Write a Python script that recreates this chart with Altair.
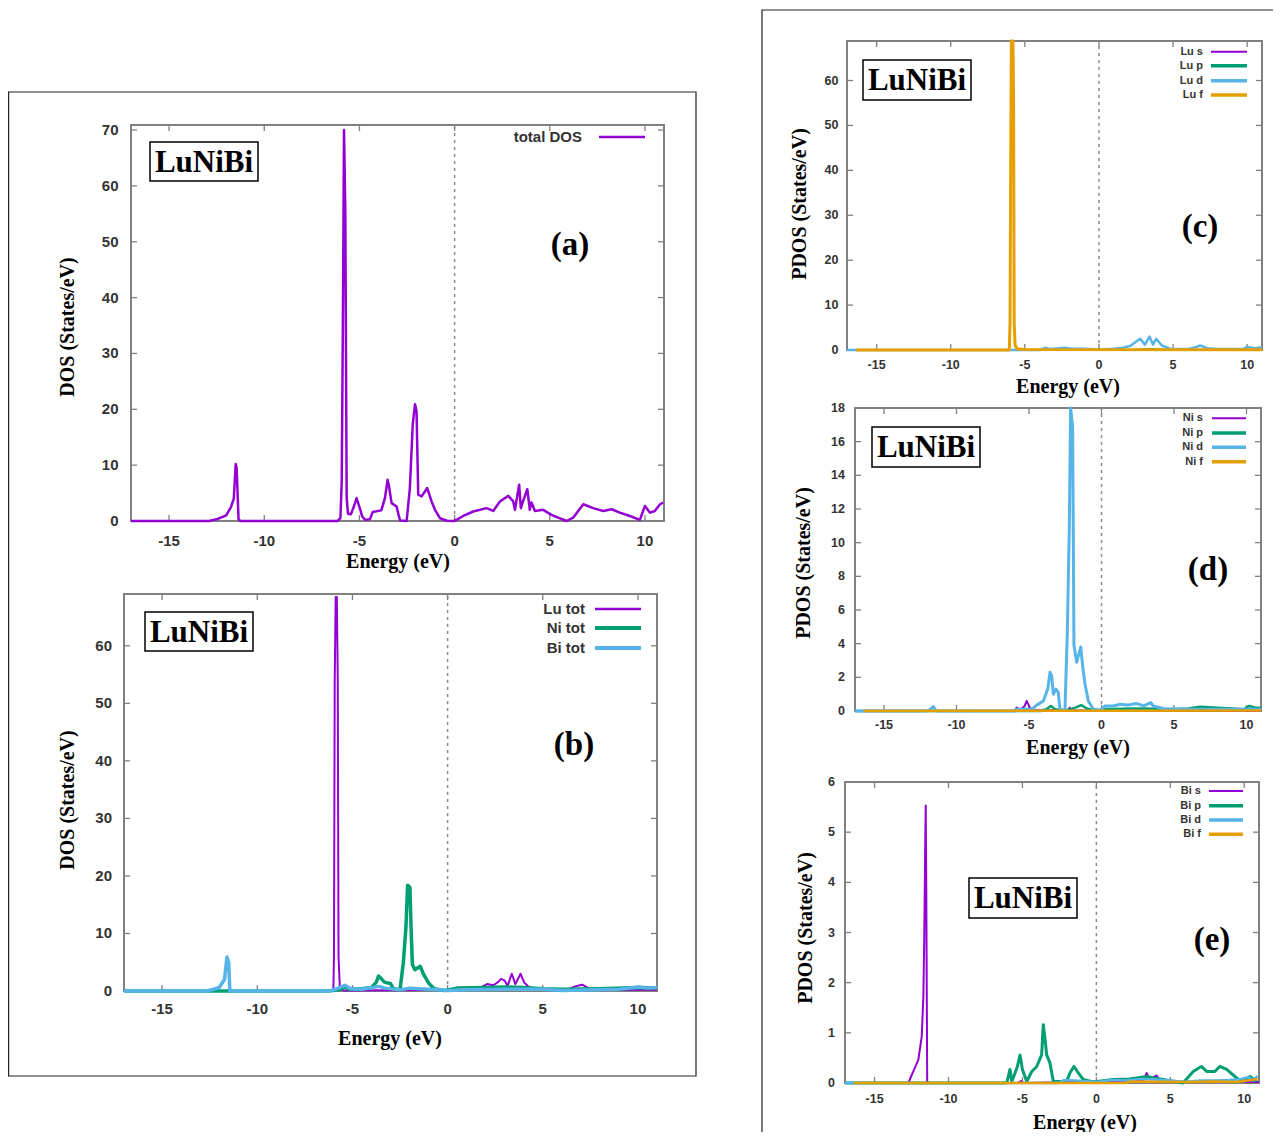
import altair as alt
import pandas as pd

OFF = 8            # page margin
W, H = 1265, 1124  # drawing area

XMIN, XMAX = -17, 11
X_TICKS = [-15, -10, -5, 0, 5, 10]
X_TICK_LABELS = ["-15", "-10", "-5", "0", "5", "10"]

PURPLE = "#9400d3"
GREEN = "#009e73"
BLUE = "#56b4e9"
ORANGE = "#e69f00"
FRAME = "#808080"
TXT = "#333333"
SANS = "Liberation Sans"
SERIF = "Liberation Serif"

# ---------------- data (energy eV, states/eV) ----------------
# (a) total DOS
a_total = [(-17, 0), (-12.9, 0), (-12.5, 0.3), (-12.0, 1.0), (-11.75, 2.5), (-11.6, 4.0), (-11.5, 10.2),
           (-11.45, 9.5), (-11.35, 0.3), (-11.25, 0), (-6.15, 0), (-6.0, 0.5), (-5.93, 7.0), (-5.86, 40),
           (-5.81, 70), (-5.74, 55), (-5.67, 4.1), (-5.6, 1.3), (-5.45, 1.2), (-5.3, 2.5), (-5.15, 4.1),
           (-5.0, 2.5), (-4.85, 0.8), (-4.7, 0.2), (-4.45, 0.3), (-4.3, 1.6), (-3.85, 1.9), (-3.66, 4.1),
           (-3.52, 7.4), (-3.46, 6.5), (-3.31, 3.2), (-3.05, 2.6), (-2.9, 0.5), (-2.85, 0.1), (-2.52, 0),
           (-2.35, 5.9), (-2.2, 17.3), (-2.08, 20.9), (-2.0, 19.7), (-1.91, 4.7), (-1.73, 4.4), (-1.44, 5.9),
           (-1.21, 3.5), (-1.03, 2.0), (-0.77, 0.5), (-0.4, 0.05), (-0.05, 0), (0.1, 0.2), (0.45, 0.9),
           (0.98, 1.7), (1.68, 2.3), (2.03, 1.8), (2.38, 3.5), (2.82, 4.5), (3.08, 3.5), (3.17, 2.0),
           (3.39, 6.5), (3.48, 2.3), (3.57, 3.3), (3.82, 5.7), (3.95, 2.0), (4.04, 3.3), (4.22, 1.8),
           (4.65, 2.0), (5.09, 1.1), (5.5, 0.5), (5.88, 0), (6.23, 0.6), (6.76, 3.0), (7.28, 2.3),
           (7.81, 1.8), (8.25, 2.1), (8.68, 1.5), (9.21, 0.9), (9.73, 0.2), (10.0, 2.7), (10.26, 1.5),
           (10.52, 1.8), (10.79, 3.0), (10.95, 3.3)]

# (b) atom-resolved totals
b_lu = [(-17, 0), (-6.05, 0), (-6.0, 0.5), (-5.97, 6), (-5.93, 54), (-5.88, 68.5), (-5.82, 68.5),
        (-5.77, 54), (-5.73, 6), (-5.66, 0.5), (-5.5, 0.1), (1.5, 0.2), (2.07, 1.2), (2.4, 1.0), (2.63, 1.5),
        (2.81, 2.1), (3.0, 1.8), (3.15, 0.9), (3.37, 3.0), (3.56, 1.2), (3.83, 3.0), (4.02, 1.5), (4.2, 0.9),
        (4.5, 0.2), (6.3, 0.2), (6.7, 0.8), (7.07, 1.1), (7.44, 0.4), (8.0, 0.2), (11, 0.2)]
b_ni = [(-17, 0), (-6.5, 0), (-6.0, 0.1), (-5.6, 0.3), (-5.4, 0.8), (-5.2, 0.3), (-4.5, 0.4), (-4.0, 0.6),
        (-3.75, 1.5), (-3.63, 2.6), (-3.5, 2.2), (-3.3, 1.5), (-3.0, 1.3), (-2.85, 0.4), (-2.5, 0.2),
        (-2.33, 4.8), (-2.19, 11), (-2.1, 18.4), (-1.98, 18.0), (-1.91, 10), (-1.85, 4.6), (-1.72, 3.7),
        (-1.44, 4.3), (-1.26, 2.9), (-0.98, 1.3), (-0.7, 0.4), (-0.15, 0.1), (0.5, 0.5), (2, 0.6), (3, 0.7),
        (4, 0.6), (5, 0.4), (6, 0.3), (8, 0.4), (10, 0.6), (11, 0.5)]
b_bi = [(-17, 0), (-12.65, 0), (-12.3, 0.3), (-12.0, 0.6), (-11.72, 2.0), (-11.59, 5.9), (-11.5, 5.0),
        (-11.44, 0), (-6.2, 0), (-5.9, 0.3), (-5.4, 1.0), (-5.1, 0.4), (-4.5, 0.3), (-3.6, 0.8), (-3.3, 0.5),
        (-2.5, 0.2), (-2.0, 0.5), (-1.5, 0.4), (-0.5, 0.2), (0, 0.1), (1, 0.2), (3, 0.3), (5, 0.3), (6, 0.1),
        (9, 0.3), (10.04, 0.7), (10.5, 0.5), (11, 0.6)]

# (c) Lu orbitals
c_s = [(-17, 0), (3.0, 0), (3.5, 0.15), (4.0, 0), (11, 0)]
c_p = [(-17, 0), (2.0, 0), (3.5, 0.2), (5.0, 0), (11, 0)]
c_d = [(-17, 0), (-4.0, 0), (-3.6, 0.5), (-3.3, 0.2), (-2.3, 0.5), (-1.8, 0.3), (-1.0, 0.3), (0, 0.1),
       (1.0, 0.3), (1.6, 0.5), (2.1, 0.9), (2.78, 2.5), (3.1, 1.2), (3.41, 3.0), (3.64, 1.2), (3.86, 2.5),
       (4.24, 1.0), (4.8, 0.3), (6.0, 0.2), (6.5, 0.6), (6.83, 1.0), (7.3, 0.4), (8.0, 0.2), (9.8, 0.3),
       (10.0, 0.7), (10.5, 0.4), (11, 0.6)]
c_f = [(-16.4, 0), (-6.05, 0), (-6.0, 6), (-5.96, 38), (-5.91, 70), (-5.8, 70), (-5.76, 54), (-5.72, 6),
       (-5.66, 1.2), (-5.55, 0.3), (-5.0, 0.1), (11, 0.05)]

# (d) Ni orbitals
d_s = [(-17, 0), (-6.0, 0), (-5.85, 0.2), (-5.6, 0.05), (-5.3, 0.3), (-5.16, 0.6), (-5.0, 0.3), (-4.8, 0.05),
       (-2.3, 0.05), (-2.2, 0.2), (-2.1, 0.05), (11, 0.02)]
d_p = [(-17, 0), (-4.2, 0), (-3.8, 0.1), (-3.5, 0.3), (-3.2, 0.1), (-2.4, 0.05), (-1.8, 0.2), (-1.4, 0.35),
       (-1.0, 0.15), (-0.5, 0.02), (0.2, 0.1), (2.0, 0.15), (3.0, 0.15), (4.5, 0.1), (6.0, 0.15), (6.8, 0.25),
       (8.0, 0.2), (9.0, 0.15), (9.8, 0.1), (10.2, 0.3), (10.6, 0.2), (11, 0.2)]
d_d = [(-17, 0), (-12.0, 0), (-11.8, 0.1), (-11.6, 0.26), (-11.4, 0), (-6.0, 0), (-5.9, 0.1), (-4.8, 0.1),
       (-4.47, 0.35), (-4.01, 0.6), (-3.71, 1.3), (-3.55, 2.3), (-3.44, 2.1), (-3.32, 1.0), (-3.14, 1.3),
       (-2.98, 1.1), (-2.86, 0.05), (-2.52, 0.05), (-2.36, 4.6), (-2.22, 10.9), (-2.13, 18.3), (-1.99, 16.9),
       (-1.9, 3.9), (-1.71, 2.9), (-1.53, 3.5), (-1.43, 3.8), (-1.29, 2.6), (-1.14, 1.6), (-0.91, 0.6),
       (-0.56, 0.1), (0, 0.05), (0.23, 0.3), (0.8, 0.3), (1.3, 0.4), (1.8, 0.35), (2.4, 0.45), (2.9, 0.3),
       (3.4, 0.5), (3.56, 0.3), (4.25, 0.15), (5.0, 0.1), (6.0, 0.1), (11, 0.1)]
d_f = [(-16.4, 0), (2.0, 0.02), (11, 0.03)]

# (e) Bi orbitals
e_s = [(-17, 0), (-12.72, 0), (-12.38, 0.23), (-12.04, 0.46), (-11.81, 0.93), (-11.7, 1.72), (-11.64, 2.9),
       (-11.57, 4.9), (-11.54, 5.53), (-11.5, 3.7), (-11.44, 0), (-5.3, 0), (-5.1, 0.04), (-4.9, 0),
       (3.2, 0.05), (3.4, 0.2), (3.6, 0.08), (4.08, 0.15), (4.3, 0.03), (11, 0.02)]
e_p = [(-17, 0), (-6.06, 0), (-5.84, 0.27), (-5.72, 0.03), (-5.5, 0.2), (-5.34, 0.33), (-5.16, 0.56),
       (-5.0, 0.27), (-4.71, 0.03), (-4.37, 0.23), (-4.03, 0.33), (-3.7, 0.56), (-3.59, 1.16), (-3.48, 0.9),
       (-3.36, 0.56), (-3.14, 0.4), (-2.91, 0.03), (-2.01, 0.03), (-1.79, 0.2), (-1.52, 0.33), (-1.22, 0.2),
       (-0.89, 0.07), (-0.21, 0.02), (1.13, 0.07), (2.26, 0.08), (3.38, 0.13), (4.51, 0.07), (5.86, 0),
       (6.55, 0.23), (7.1, 0.33), (7.46, 0.23), (8.01, 0.23), (8.36, 0.33), (8.81, 0.27), (9.49, 0.1),
       (9.94, 0.03), (10.39, 0.13), (10.84, 0.03)]
e_d = [(-17, 0), (-2.5, 0), (-2.2, 0.06), (-1.5, 0.05), (0, 0.02), (1, 0.06), (2, 0.05), (3, 0.08), (4, 0.07),
       (5, 0.05), (6, 0.02), (7, 0.05), (8, 0.05), (9, 0.06), (9.8, 0.08), (10.3, 0.12), (10.6, 0.05),
       (10.9, 0.14)]
e_f = [(-16.4, 0), (2.0, 0), (2.3, 0.03), (6.0, 0.02), (8.0, 0.03), (9.5, 0.02), (10.0, 0.04), (10.5, 0.06),
       (10.9, 0.08)]

# tick labels and legend labels
a_yticks = [0, 10, 20, 30, 40, 50, 60, 70]
b_yticks = [0, 10, 20, 30, 40, 50, 60]
c_yticks = [0, 10, 20, 30, 40, 50, 60]
d_yticks = [0, 2, 4, 6, 8, 10, 12, 14, 16, 18]
e_yticks = [0, 1, 2, 3, 4, 5, 6]
a_labels = ["total DOS"]
b_labels = ["Lu tot", "Ni tot", "Bi tot"]
c_labels = ["Lu s", "Lu p", "Lu d", "Lu f"]
d_labels = ["Ni s", "Ni p", "Ni d", "Ni f"]
e_labels = ["Bi s", "Bi p", "Bi d", "Bi f"]
FORMULA = "LuNiBi"
X_TITLE = "Energy (eV)"

# ---------------- layout (page pixels) ----------------
PANELS = [
    dict(tag="(a)", L=131, R=664, T=125, B=521, ymax=70.9, yticks=a_yticks, lfs=15,
         xly=541, ylx=118.5, xtx=398, xty=562, ytx=68, yty=327, ytitle="DOS (States/eV)",
         series=[(a_total, PURPLE, 2.5)], labels=a_labels, leg_w=[2.5], leg_fs=15,
         leg_tx=582, leg_l0=599, leg_l1=645, leg_y=[137],
         box=(150, 142, 258, 181), tagpos=(570, 245)),
    dict(tag="(b)", L=124, R=657, T=594, B=991, ymax=69, yticks=b_yticks, lfs=15,
         xly=1009, ylx=112, xtx=390, xty=1039, ytx=68, yty=800, ytitle="DOS (States/eV)",
         series=[(b_lu, PURPLE, 2.0), (b_ni, GREEN, 3.5), (b_bi, BLUE, 3.5)], labels=b_labels,
         leg_w=[2.5, 4, 4], leg_fs=15, leg_tx=585, leg_l0=595, leg_l1=641, leg_y=[609, 628, 648],
         box=(145, 612, 253, 651), tagpos=(574, 745)),
    dict(tag="(c)", L=847, R=1262, T=41, B=350, ymax=68.8, yticks=c_yticks, lfs=12.5,
         xly=364.5, ylx=838.5, xtx=1068, xty=387, ytx=800, yty=204, ytitle="PDOS (States/eV)",
         series=[(c_s, PURPLE, 1.5), (c_p, GREEN, 2.0), (c_d, BLUE, 2.5), (c_f, ORANGE, 3.0)],
         labels=c_labels, leg_w=[2, 3.5, 3.5, 3.5], leg_fs=11, leg_tx=1203, leg_l0=1211, leg_l1=1247,
         leg_y=[51.7, 65.7, 80.7, 95], box=(863, 60, 971, 100), tagpos=(1200, 227)),
    dict(tag="(d)", L=855, R=1261, T=408, B=711, ymax=18, yticks=d_yticks, lfs=12.5,
         xly=725, ylx=845, xtx=1078, xty=748, ytx=804, yty=563, ytitle="PDOS (States/eV)",
         series=[(d_s, PURPLE, 2.0), (d_p, GREEN, 2.5), (d_d, BLUE, 3.0), (d_f, ORANGE, 2.5)],
         labels=d_labels, leg_w=[2, 3.5, 3.5, 3.5], leg_fs=11, leg_tx=1203, leg_l0=1212, leg_l1=1246,
         leg_y=[418.3, 433, 447.3, 461.7], box=(872, 427, 980, 467), tagpos=(1208, 570)),
    dict(tag="(e)", L=845, R=1259, T=782, B=1083, ymax=6, yticks=e_yticks, lfs=12.5,
         xly=1098.5, ylx=835, xtx=1085, xty=1123, ytx=806, yty=928, ytitle="PDOS (States/eV)",
         series=[(e_s, PURPLE, 2.0), (e_p, GREEN, 3.0), (e_d, BLUE, 2.5), (e_f, ORANGE, 2.5)],
         labels=e_labels, leg_w=[2, 3.5, 3.5, 3.5], leg_fs=11, leg_tx=1201, leg_l0=1209, leg_l1=1243,
         leg_y=[791, 805.7, 820, 834.3], box=(969, 878, 1077, 918), tagpos=(1212, 940)),
]


def one():
    return pd.DataFrame({"k": [0]})


def text_at(txt, x, y, size, font, weight, color, align="center", angle=0):
    return alt.Chart(one()).mark_text(
        text=txt, font=font, fontSize=size, fontWeight=weight, color=color, align=align,
        baseline="middle", angle=angle
    ).encode(x=alt.value(x - OFF), y=alt.value(y - OFF))


def box_at(x0, y0, x1, y1, color, width):
    return alt.Chart(one()).mark_rect(fillOpacity=0, stroke=color, strokeWidth=width).encode(
        x=alt.value(x0 - OFF), x2=alt.value(x1 - OFF), y=alt.value(y0 - OFF), y2=alt.value(y1 - OFF))


def build_panel(g):
    L, R, T, B = (g[k] - OFF for k in ("L", "R", "T", "B"))
    sx = alt.Scale(domain=[XMIN, XMAX], range=[L, R], nice=False, zero=False)
    sy = alt.Scale(domain=[0, g["ymax"]], range=[B, T], nice=False, zero=False, clamp=True)

    frame_df = pd.DataFrame({"x0": [XMIN], "x1": [XMAX], "y0": [0], "y1": [g["ymax"]]})
    frame = alt.Chart(frame_df).mark_rect(fillOpacity=0, stroke=FRAME, strokeWidth=2).encode(
        x=alt.X("x0:Q", scale=sx, axis=None), x2="x1:Q",
        y=alt.Y("y0:Q", scale=sy, axis=None), y2="y1:Q")

    zero_df = pd.DataFrame({"x": [0], "y0": [0], "y1": [g["ymax"]]})
    zero = alt.Chart(zero_df).mark_rule(color="#8c8c8c", strokeWidth=1.5, strokeDash=[3, 4]).encode(
        x=alt.X("x:Q", scale=sx, axis=None), y=alt.Y("y0:Q", scale=sy, axis=None), y2="y1:Q")

    xt = pd.DataFrame({"v": X_TICKS, "lab": X_TICK_LABELS})
    yt = pd.DataFrame({"v": g["yticks"], "lab": [str(v) for v in g["yticks"]]})
    tick_kw = dict(color=FRAME, strokeWidth=1.3)
    ticks = [
        alt.Chart(xt).mark_rule(**tick_kw).encode(
            x=alt.X("v:Q", scale=sx, axis=None), y=alt.value(B), y2=alt.value(B - 6)),
        alt.Chart(xt).mark_rule(**tick_kw).encode(
            x=alt.X("v:Q", scale=sx, axis=None), y=alt.value(T), y2=alt.value(T + 6)),
        alt.Chart(yt).mark_rule(**tick_kw).encode(
            y=alt.Y("v:Q", scale=sy, axis=None), x=alt.value(L), x2=alt.value(L + 6)),
        alt.Chart(yt).mark_rule(**tick_kw).encode(
            y=alt.Y("v:Q", scale=sy, axis=None), x=alt.value(R), x2=alt.value(R - 6)),
    ]
    lab_kw = dict(font=SANS, fontSize=g["lfs"], fontWeight="bold", color=TXT, baseline="middle")
    tick_labels = [
        alt.Chart(xt).mark_text(align="center", **lab_kw).encode(
            x=alt.X("v:Q", scale=sx, axis=None), y=alt.value(g["xly"] - OFF), text="lab:N"),
        alt.Chart(yt).mark_text(align="right", **lab_kw).encode(
            y=alt.Y("v:Q", scale=sy, axis=None), x=alt.value(g["ylx"] - OFF), text="lab:N"),
    ]
    titles = [
        text_at(X_TITLE, g["xtx"], g["xty"], 20, SERIF, "bold", "black"),
        text_at(g["ytitle"], g["ytx"], g["yty"], 20, SERIF, "bold", "black", angle=270),
    ]

    lines = []
    for pts, color, width in g["series"]:
        df = pd.DataFrame(pts, columns=["E", "DOS"])
        lines.append(alt.Chart(df).mark_line(color=color, strokeWidth=width, strokeJoin="round").encode(
            x=alt.X("E:Q", scale=sx, axis=None), y=alt.Y("DOS:Q", scale=sy, axis=None)))

    legend = []
    for i, lab in enumerate(g["labels"]):
        color = g["series"][i][1]
        y = g["leg_y"][i]
        legend.append(text_at(lab, g["leg_tx"], y, g["leg_fs"], SANS, "bold", TXT, align="right"))
        legend.append(alt.Chart(one()).mark_rule(color=color, strokeWidth=g["leg_w"][i]).encode(
            x=alt.value(g["leg_l0"] - OFF), x2=alt.value(g["leg_l1"] - OFF), y=alt.value(y - OFF)))

    bx0, by0, bx1, by1 = g["box"]
    formula = [box_at(bx0, by0, bx1, by1, "black", 1.5),
               text_at(FORMULA, (bx0 + bx1) / 2, (by0 + by1) / 2 + 1, 31, SERIF, "bold", "black")]
    tag = text_at(g["tag"], g["tagpos"][0], g["tagpos"][1], 33, SERIF, "bold", "black")

    return alt.layer(frame, zero, *ticks, *tick_labels, *titles, *lines, *legend, *formula, tag)


outer = [box_at(8.6, 92, 696, 1076, "#222222", 1.2),
         box_at(762, 10, 1300, 1200, "#222222", 1.2)]

chart = alt.layer(*outer, *[build_panel(g) for g in PANELS]).resolve_scale(
    x="independent", y="independent"
).properties(
    width=W, height=H, autosize=alt.AutoSizeParams(type="none"), padding=0
).configure_view(strokeWidth=0)

chart.save("out.html", embed_options={"renderer": "svg", "actions": False})
